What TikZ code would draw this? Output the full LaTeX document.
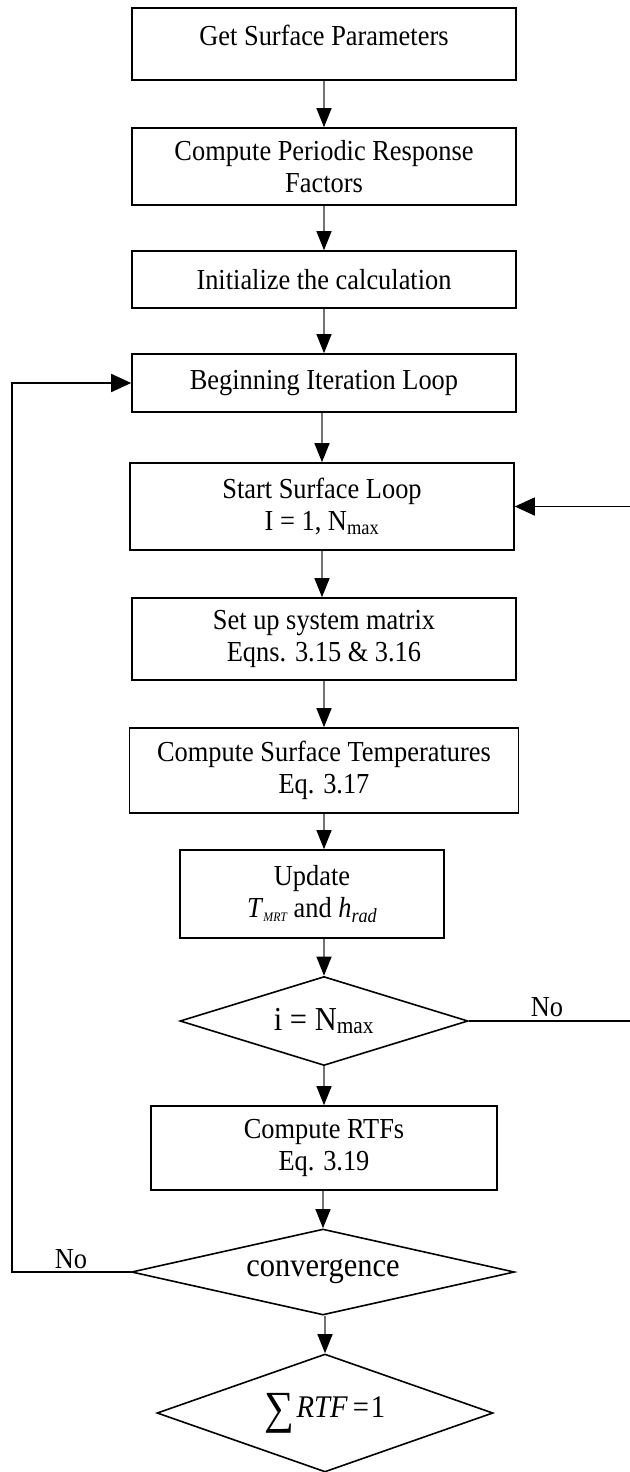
\documentclass[tikz,border=0pt]{standalone}
\usepackage{fontspec}
\setmainfont{Liberation Serif}[FakeStretch=0.91]
\usetikzlibrary{arrows.meta,shapes.geometric}
\begin{document}
\begin{tikzpicture}[x=1pt,y=-1pt,
  txt/.style={font=\fontsize{29}{32}\selectfont, align=center, inner sep=0pt},
  box/.style={txt, draw=black, line width=1.6pt},
  dia/.style={draw=black, line width=1.6pt, diamond, inner sep=0pt,
    font=\fontsize{33.5}{36}\selectfont},
  flow/.style={draw=black!55, line width=1.3pt,
    -{Triangle[length=19pt,width=15pt,color=black]}},
  back/.style={draw=black, line width=1.7pt,
    -{Triangle[length=20pt,width=18pt,color=black]}}]
\useasboundingbox (0,0) rectangle (629,1472);

% process boxes
\node[box, minimum width=384pt, minimum height=72pt] (b1) at (324,44) {};
\node[txt] (t1) at (324,35) {Get Surface Parameters};
\node[box, minimum width=384pt, minimum height=77pt] (b2) at (324,166.5)
  {Compute Periodic Response\\Factors};
\node[box, minimum width=384pt, minimum height=57pt] (b3) at (324,279.5)
  {Initialize the calculation};
\node[box, minimum width=384pt, minimum height=58pt] (b4) at (324,383)
  {Beginning Iteration Loop};
\node[box, minimum width=384pt, minimum height=87pt] (b5) at (322,506.5)
  {Start Surface Loop\\I = 1, N\textsubscript{max}};
\node[box, minimum width=384pt, minimum height=82pt] (b6) at (324,639)
  {Set up system matrix\\Eqns. 3.15 \& 3.16};
\node[box, minimum width=389pt, minimum height=85pt] (b7) at (324,770.5)
  {Compute Surface Temperatures\\Eq. 3.17};
\node[box, minimum width=264pt, minimum height=88pt] (b8) at (312,894)
  {Update\\\textit{T}\raisebox{-4pt}{\fontsize{13}{13}\selectfont\itshape MRT}
   and \textit{h}\raisebox{-5pt}{\fontsize{20}{20}\selectfont\itshape rad}};
\node[box, minimum width=346pt, minimum height=84pt] (b9) at (324,1148)
  {Compute RTFs\\Eq. 3.19};

% decisions
\node[dia, minimum width=288pt, minimum height=89pt, aspect=3.24] (d1) at (324,1021)
  {i = N\textsubscript{max}};
\node[dia, minimum width=383pt, minimum height=86pt, aspect=4.45] (d2) at (323,1272)
  {convergence};
\node[dia, minimum width=336pt, minimum height=118pt, aspect=2.85] (d3) at (325,1413)
  {\fontsize{31.5}{36}\selectfont
   \raisebox{-6pt}{\fontsize{46}{46}\selectfont ∑}\kern2pt\textit{RTF}\kern5pt=\kern2pt1};

% branch labels
\node[txt] (no1) at (547,1007) {No};
\node[txt] (no2) at (71,1259) {No};

% main flow
\draw[flow] (b1.south) -- (b2.north);
\draw[flow] (b2.south) -- (b3.north);
\draw[flow] (b3.south) -- (b4.north);
\draw[flow] (b4.south -| b5.north) -- (b5.north);
\draw[flow] (b5.south) -- (b5.south |- b6.north);
\draw[flow] (b6.south) -- (b7.north);
\draw[flow] (b7.south) -- (b7.south |- b8.north);
\draw[flow] (b7.south |- b8.south) -- (d1.north);
\draw[flow] (d1.south) -- (b9.north);
\draw[flow] (b9.south -| d2.north) -- (d2.north);
\draw[flow] (d2.south -| d3.north) -- (d3.north);

% loop-back connectors (the right-hand return runs along the page edge)
\coordinate (L) at (12,0);
\coordinate (R) at (631,0);
\draw[back] (d2.west) -- (d2.west -| L) -- (L |- b4.west) -- (b4.west);
\draw[back] (d1.east) -- (d1.east -| R) -- (R |- b5.east) -- (b5.east);
\end{tikzpicture}
\end{document}
